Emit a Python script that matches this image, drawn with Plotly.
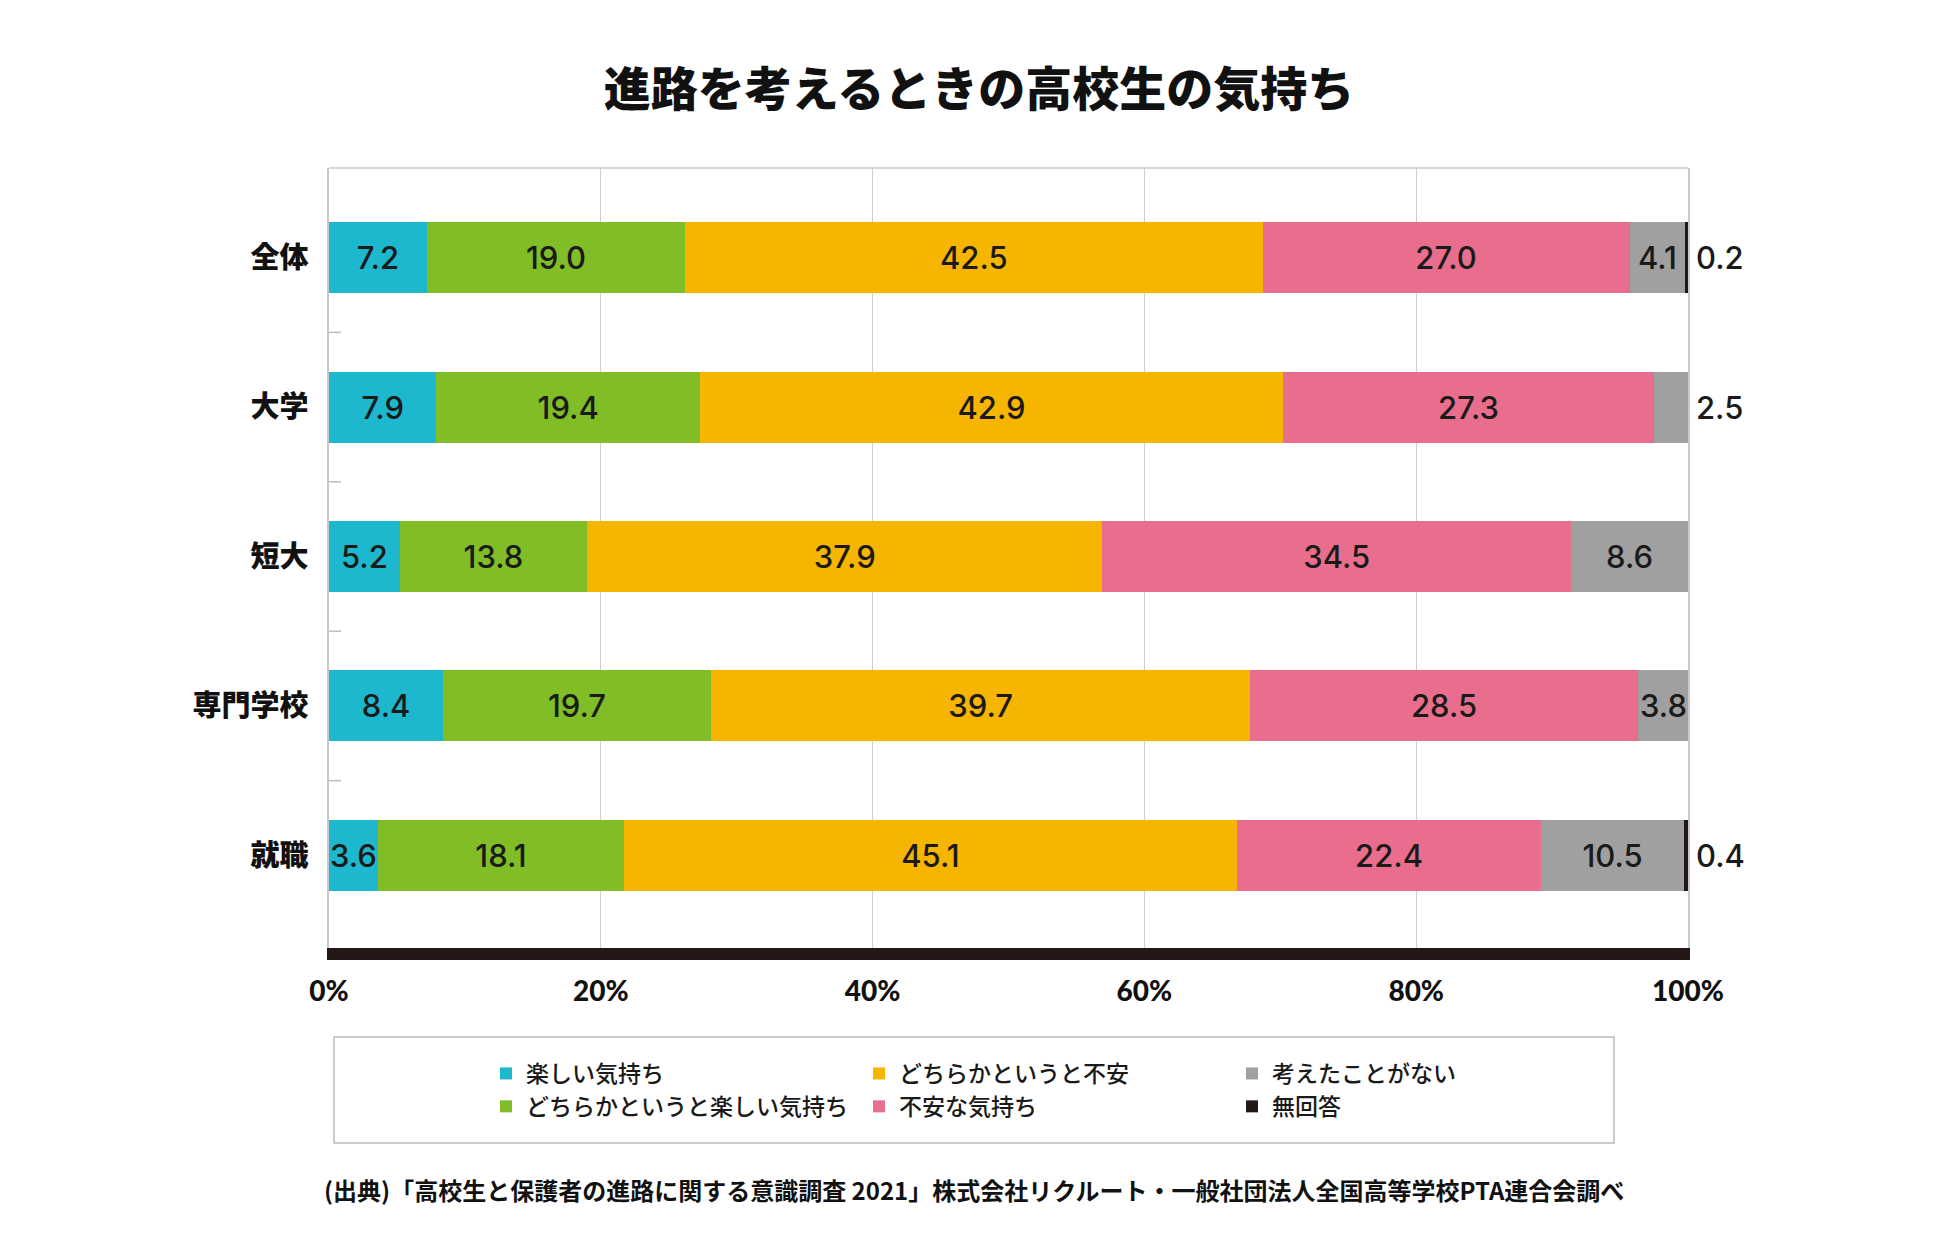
import plotly.graph_objects as go

# 進路を考えるときの高校生の気持ち (単位: %)
categories = ["全体", "大学", "短大", "専門学校", "就職"]

series_names = [
    "楽しい気持ち",
    "どちらかというと楽しい気持ち",
    "どちらかというと不安",
    "不安な気持ち",
    "考えたことがない",
    "無回答",
]
series_colors = ["#1DB7CE", "#80BD27", "#F6B500", "#E96E8D", "#A0A0A0", "#231815"]

tanoshii = [7.2, 7.9, 5.2, 8.4, 3.6]
yaya_tanoshii = [19.0, 19.4, 13.8, 19.7, 18.1]
yaya_fuan = [42.5, 42.9, 37.9, 39.7, 45.1]
fuan = [27.0, 27.3, 34.5, 28.5, 22.4]
kangaeta_nai = [4.1, 2.5, 8.6, 3.8, 10.5]
mukaitou = [0.2, 0.0, 0.0, 0.0, 0.4]

x_ticks = [0, 20, 40, 60, 80, 100]
x_ticktext = [f"{v}%" for v in x_ticks]

title_text = "進路を考えるときの高校生の気持ち"
source_text = "(出典)「高校生と保護者の進路に関する意識調査 2021」株式会社リクルート・一般社団法人全国高等学校PTA連合会調べ"

# small segments at the end of a bar get their label outside, right of 100%
SMALL = 3.0

JP = "Noto Sans CJK JP"
NUM = "Inter"
INK = "#1a1a1a"
GRID = "#cfcfcf"
FRAME = "#c8c8c8"

# page has an 8px body margin, so the figure is sized to fit inside it
W, H = 1942, 1252
PLOT_L, PLOT_T, PLOT_W, PLOT_H = 321, 160, 1359, 780

# legend is read column by column in the reference
legend_rank = [1, 4, 2, 5, 3, 6]

all_series = [tanoshii, yaya_tanoshii, yaya_fuan, fuan, kangaeta_nai, mukaitou]

fig = go.Figure()
for i, (name, color, vals) in enumerate(zip(series_names, series_colors, all_series)):
    is_tail = i >= 4
    texts = []
    for v in vals:
        if v <= 0 or (is_tail and v < SMALL):
            texts.append("")
        else:
            texts.append(f"{v:.1f}")
    fig.add_trace(go.Bar(
        y=categories, x=vals, name=name, orientation="h",
        marker=dict(color=color, line=dict(width=0)),
        text=texts, textposition="inside", insidetextanchor="middle",
        textangle=0, constraintext="none",
        textfont=dict(family=NUM, size=31, color=INK, weight=500),
        legendrank=legend_rank[i], hoverinfo="skip",
    ))

# outside labels for the small tail segments
for vals in (kangaeta_nai, mukaitou):
    for cat, v in zip(categories, vals):
        if 0 < v < SMALL:
            fig.add_annotation(
                x=100, y=cat, xref="x", yref="y", text=f"{v:.1f}",
                showarrow=False, xanchor="left", xshift=6,
                font=dict(family=NUM, size=31, color=INK, weight=500),
            )

n = len(categories)
y_range = [n - 1 + 0.62, -0.6]


def px_x(page_x):
    return (page_x - 8 - PLOT_L) / PLOT_W


def px_y(page_y):
    return (PLOT_T + PLOT_H - (page_y - 8)) / PLOT_H


fig.update_layout(
    width=W, height=H,
    margin=dict(l=PLOT_L, r=W - PLOT_L - PLOT_W, t=PLOT_T, b=H - PLOT_T - PLOT_H),
    paper_bgcolor="white", plot_bgcolor="white",
    barmode="stack", bargap=0.525,
    title=dict(
        text=title_text, x=0.5, xanchor="center", xref="container",
        y=1 - 82 / H, yref="container", yanchor="middle",
        font=dict(family=JP, size=47, color="#111111", weight=900),
    ),
    xaxis=dict(
        range=[0, 100], tickvals=x_ticks, ticktext=x_ticktext,
        showgrid=True, gridcolor=GRID, gridwidth=1, zeroline=False,
        showline=True, linecolor="#231815", linewidth=12,
        ticks="outside", ticklen=7, tickcolor="rgba(0,0,0,0)",
        tickfont=dict(family="Lato", size=28, color="#111111", weight=900),
        fixedrange=True,
    ),
    yaxis=dict(
        range=y_range, type="category", showgrid=False, zeroline=False,
        showline=True, mirror=True, linecolor=FRAME, linewidth=1.5,
        ticks="", ticklabelstandoff=13,
        tickfont=dict(family=JP, size=29, color="#111111", weight=900),
        fixedrange=True,
    ),
    legend=dict(
        orientation="h", x=px_x(486), xanchor="left",
        y=px_y(1052), yanchor="top",
        entrywidth=328, entrywidthmode="pixels", traceorder="normal",
        font=dict(family=JP, size=23, color=INK, weight=500),
        bgcolor="rgba(0,0,0,0)", borderwidth=0, itemclick=False,
    ),
    showlegend=True,
)

# top frame line
fig.add_shape(type="line", xref="paper", yref="paper", x0=0, x1=1, y0=1, y1=1,
              line=dict(color=FRAME, width=1.5))

# short inner ticks on the left between categories
for i in range(n - 1):
    fig.add_shape(type="line", xref="paper", yref="y",
                  x0=0, x1=12 / PLOT_W, y0=i + 0.5, y1=i + 0.5,
                  line=dict(color="#bdbdbd", width=1.5))

# legend box
fig.add_shape(type="rect", xref="paper", yref="paper",
              x0=px_x(334), x1=px_x(1614), y0=px_y(1037), y1=px_y(1143),
              line=dict(color="#bdbdbd", width=1.5), fillcolor="rgba(0,0,0,0)")

fig.add_annotation(
    text=source_text, xref="paper", yref="paper",
    x=px_x(974), y=px_y(1189),
    xanchor="center", yanchor="middle", showarrow=False,
    font=dict(family=JP, size=24, color="#111111", weight=700),
)

fig.write_html("out.html")
